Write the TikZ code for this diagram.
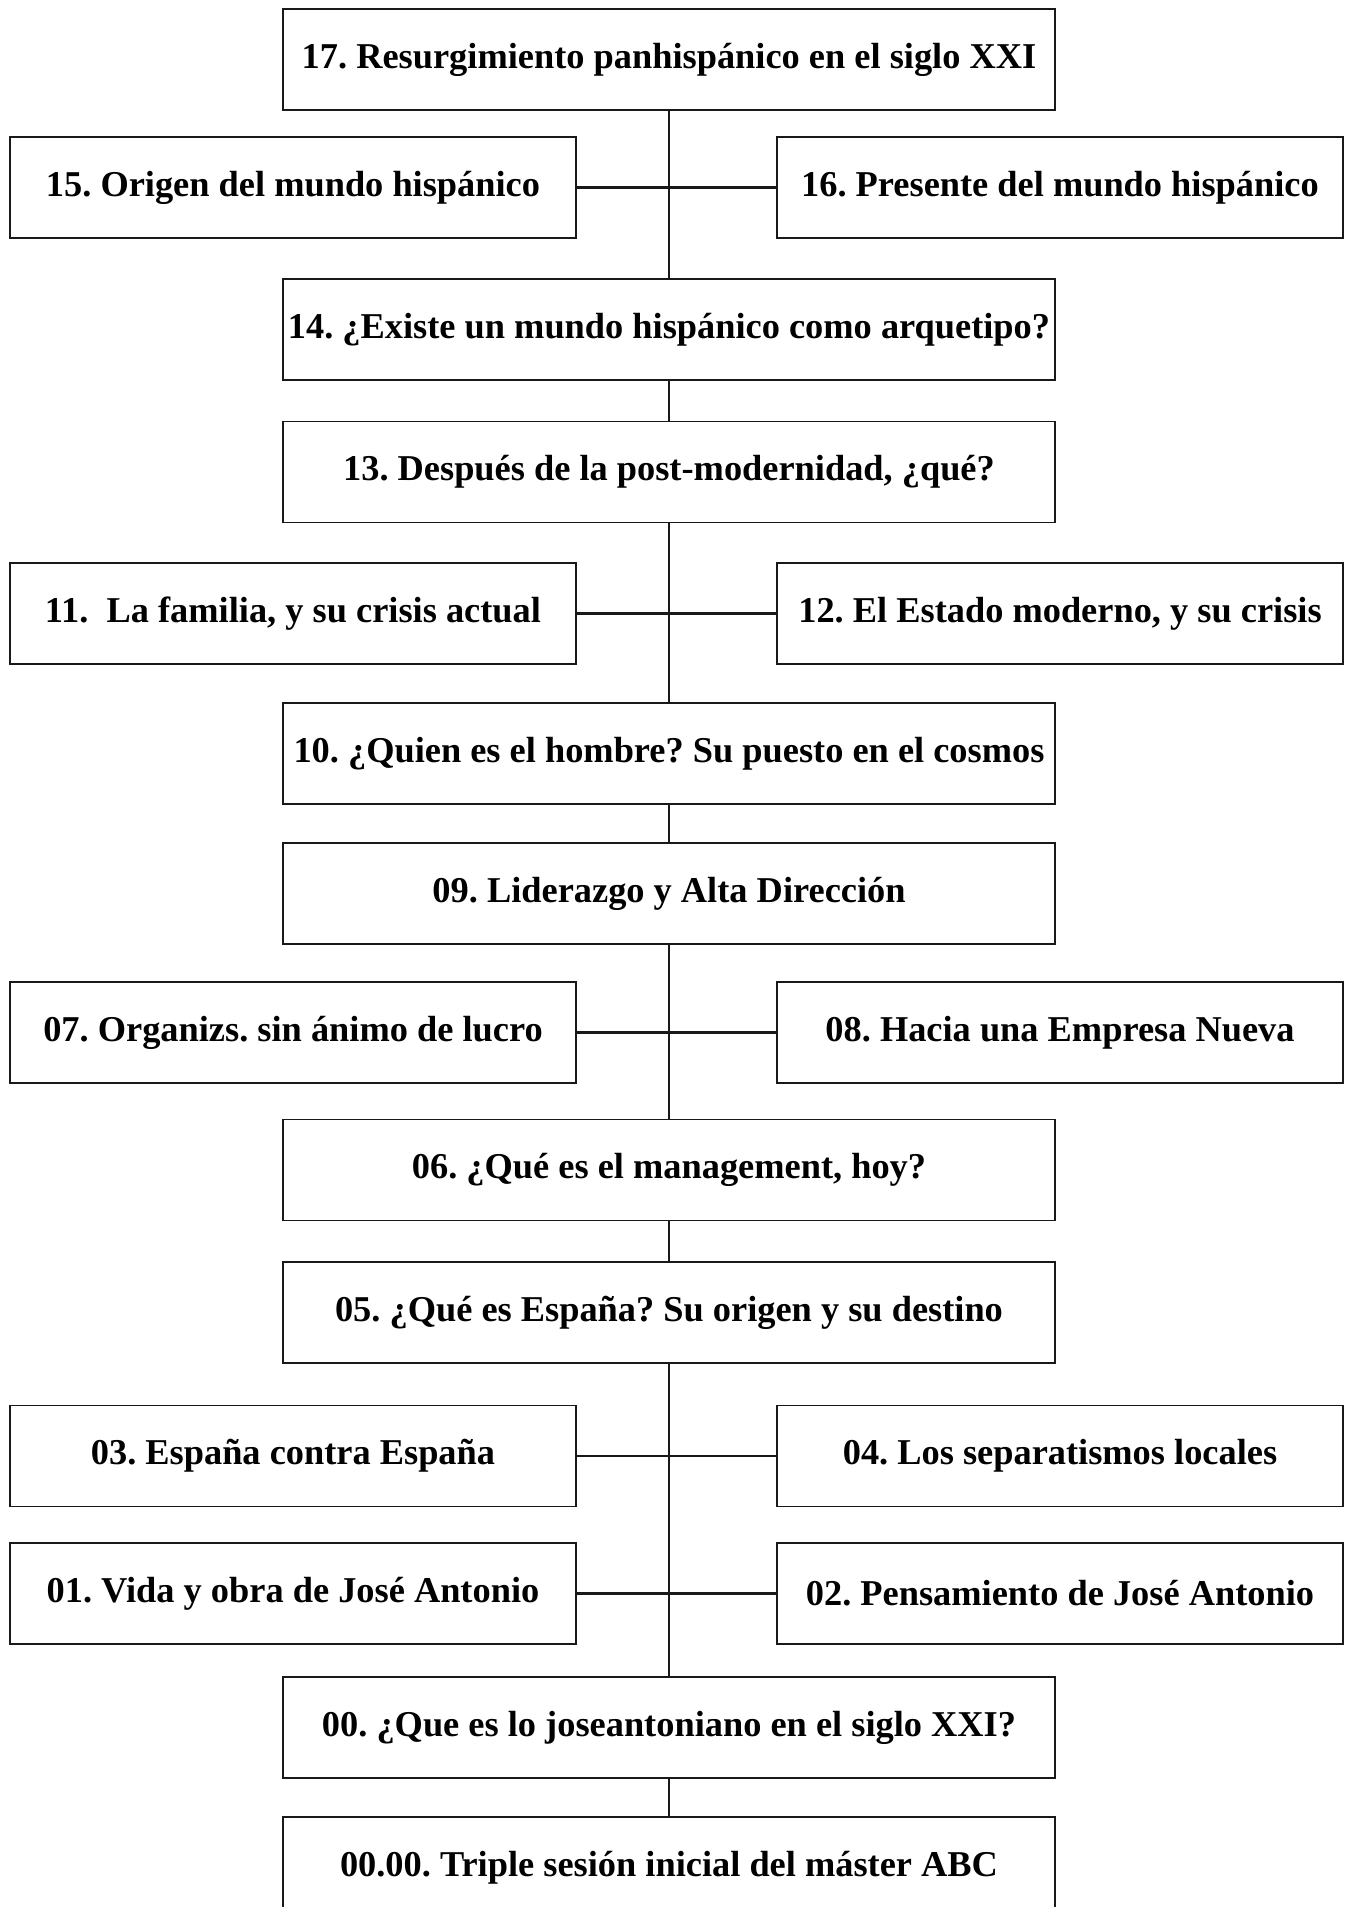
\documentclass[tikz,border=0pt]{standalone}
\usepackage{fontspec}
\setmainfont{Liberation Serif}
\frenchspacing
\begin{document}
\begin{tikzpicture}[x=0.02cm,y=-0.02cm,
    tema/.style={draw=black!90,line width=1.1pt,fill=white,inner sep=0pt,
      minimum width=15.44cm,minimum height=2.02cm,
      font=\bfseries\fontsize{20.7}{25}\selectfont},
    lado/.style={tema,minimum width=11.32cm},
    enlace/.style={line width=1pt,black!90}]
\clip (0,0) rectangle (1347,1907);
% columna central
\node[tema] (t17) at (669,59.5)   {17. Resurgimiento panhisp\'anico en el siglo XXI};
\node[tema] (t14) at (669,329.5)  {14. ¿Existe un mundo hisp\'anico como arquetipo?};
\node[tema] (t13) at (669,472)    {13. Despu\'es de la post-modernidad, ¿qu\'e?};
\node[tema] (t10) at (669,753.5)  {10. ¿Quien es el hombre? Su puesto en el cosmos};
\node[tema] (t09) at (669,893.5)  {09. Liderazgo y Alta Direcci\'on};
\node[tema] (t06) at (669,1170)   {06. ¿Qu\'e es el management, hoy?};
\node[tema] (t05) at (669,1312.5) {05. ¿Qu\'e es Espa\~na? Su origen y su destino};
\node[tema] (t00) at (669,1727.5) {00. ¿Que es lo joseantoniano en el siglo XXI?};
\node[tema] (t0000) at (669,1867.5) {00.00. Triple sesi\'on inicial del m\'aster ABC};
% a los lados
\node[lado] (t15) at (293,187.5)  {15. Origen del mundo hisp\'anico};
\node[lado] (t16) at (1060,187.5) {16. Presente del mundo hisp\'anico};
\node[lado] (t11) at (293,613.5)  {11.\ \ La familia, y su crisis actual};
\node[lado] (t12) at (1060,613.5) {12. El Estado moderno, y su crisis};
\node[lado] (t07) at (293,1032.5) {07. Organizs. sin \'animo de lucro};
\node[lado] (t08) at (1060,1032.5) {08. Hacia una Empresa Nueva};
\node[lado] (t03) at (293,1456)   {03. Espa\~na contra Espa\~na};
\node[lado] (t04) at (1060,1456)  {04. Los separatismos locales};
\node[lado] (t01) at (293,1593.5) {01. Vida y obra de Jos\'e Antonio};
\node[lado] (t02) at (1060,1593.5) {02. Pensamiento de Jos\'e Antonio};
\foreach \a/\b in {t17/t14,t14/t13,t13/t10,t10/t09,t09/t06,t06/t05,t05/t00,t00/t0000}
  \draw[enlace] (\a) -- (\b);
\foreach \a/\b in {t15/t16,t11/t12,t07/t08,t03/t04,t01/t02}
  \draw[enlace,line width=1.3pt] (\a) -- (\b);
\end{tikzpicture}
\end{document}
